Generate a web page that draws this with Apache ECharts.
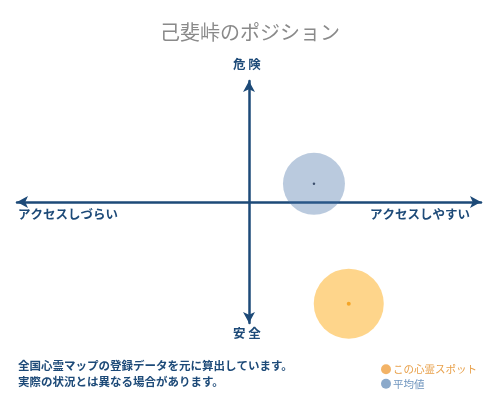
<!DOCTYPE html>
<html>
<head>
<meta charset="utf-8">
<script src="https://cdn.jsdelivr.net/npm/echarts@6/dist/echarts.min.js"></script>
<style>
html, body { margin: 0; padding: 0; background: #fff; }
#main { width: 500px; height: 400px; }
</style>
</head>
<body>
<div id="main"></div>
<script>
// 表示データ
var titleText = "己斐峠のポジション"
var seriesNames = ["この心霊スポット", "平均値"]
var spotPoint = [0.43, -0.84]   // アクセス, 危険度
var avgPoint = [0.28, 0.15]
var spotSize = 70
var avgSize = 62
var axisLabels = { top: "危 険", bottom: "安 全", left: "アクセスしづらい", right: "アクセスしやすい" }
var noteLines = ["全国心霊マップの登録データを元に算出しています。", "実際の状況とは異なる場合があります。"]

var navy = "#1d4a78"
var font = "'Noto Sans CJK JP', sans-serif"

var myChart = echarts.init(document.getElementById('main'));

function axisOpt(){
    return {
        type: 'value',
        min: -1,
        max: 1,
        axisLine: {
            onZero: true,
            symbol: ['arrow', 'arrow'],
            symbolSize: [9, 11],
            lineStyle: { color: navy, width: 2.5 }
        },
        axisTick: { show: false },
        axisLabel: { show: false },
        splitLine: { show: false }
    };
}

function labelText(x, y, text){
    return {
        type: 'text',
        left: x, top: y,
        style: {
            text: text,
            fill: navy,
            font: 'bold 12.5px ' + font
        }
    };
}

var option = {
    animation: false,
    title: {
        text: titleText,
        left: 'center',
        top: 17,
        textStyle: { color: '#8a8a8a', fontSize: 20, fontWeight: 'normal', fontFamily: font }
    },
    grid: { left: 17, right: 19, top: 81, bottom: 77 },
    xAxis: axisOpt(),
    yAxis: axisOpt(),
    legend: {
        orient: 'vertical',
        left: 376,
        top: 359,
        itemGap: 4,
        itemWidth: 10,
        itemHeight: 10,
        icon: 'circle',
        textStyle: { fontSize: 10.5, fontFamily: font, padding: [0, 0, 0, -3] },
        data: [
            { name: seriesNames[0], itemStyle: { color: '#f0a040' }, textStyle: { color: '#e8a04a' } },
            { name: seriesNames[1], itemStyle: { color: '#6e94bd' }, textStyle: { color: '#6e94bd' } }
        ]
    },
    graphic: [
        labelText(233, 58, axisLabels.top),
        labelText(233, 327, axisLabels.bottom),
        labelText(18, 208, axisLabels.left),
        labelText(370, 208, axisLabels.right),
        {
            type: 'text', left: 18, top: 360,
            style: { text: noteLines[0], fill: navy, font: 'bold 11.5px ' + font }
        },
        {
            type: 'text', left: 18, top: 376,
            style: { text: noteLines[1], fill: navy, font: 'bold 11.5px ' + font }
        }
    ],
    series: [
        {
            name: seriesNames[0],
            type: 'scatter',
            symbolSize: spotSize,
            itemStyle: { color: 'rgba(253,178,40,0.68)' },
            data: [spotPoint]
        },
        {
            name: seriesNames[1],
            type: 'scatter',
            symbolSize: avgSize,
            itemStyle: { color: 'rgba(64,108,164,0.45)' },
            data: [avgPoint]
        },
        {
            name: 'spotCenter',
            type: 'scatter',
            symbolSize: 4,
            itemStyle: { color: '#f39a10' },
            data: [spotPoint]
        },
        {
            name: 'avgCenter',
            type: 'scatter',
            symbolSize: 2.5,
            itemStyle: { color: '#1d3050' },
            data: [avgPoint]
        }
    ]
};

myChart.setOption(option);
</script>
</body>
</html>
